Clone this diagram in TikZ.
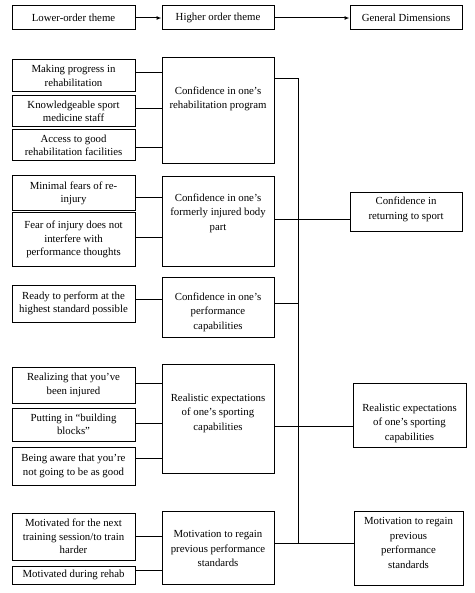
\documentclass[tikz,border=0pt]{standalone}
\usepackage{fontspec}
\setmainfont{Liberation Serif}
\usetikzlibrary{arrows.meta}
\begin{document}
\begin{tikzpicture}[x=1pt,y=-1pt,
  box/.style={draw, line width=1pt, align=center, inner sep=0pt,
    font=\fontsize{10.8}{13.5}\selectfont},
  lbox/.style={box, minimum width=123pt},
  hbox/.style={box, minimum width=112pt},
  txt/.style={align=center, inner sep=0pt, font=\fontsize{10.8}{14.6}\selectfont},
  conn/.style={line width=1pt},
  arr/.style={line width=1pt, -{Latex[length=5pt,width=4pt]}}]
\useasboundingbox (0,0) rectangle (474,593);
% header
\node[lbox, minimum height=24pt] (lh) at (73.5,18) {Lower-order theme};
\node[hbox, minimum height=24pt] (hh) at (218,18) {Higher order theme};
\node[hbox, minimum height=24pt] (gh) at (406,18) {General Dimensions};
\draw[arr] (lh.east) -- (hh.west);
\draw[arr] (hh.east) -- (gh.west);
% group 1
\node[lbox, minimum height=32pt] (l1) at (73.5,76) {Making progress in\\rehabilitation};
\node[lbox, minimum height=31pt] (l2) at (73.5,111.5) {Knowledgeable sport\\medicine staff};
\node[lbox, minimum height=31pt] (l3) at (73.5,145.5) {Access to good\\rehabilitation facilities};
\node[hbox, minimum height=106pt,
  label={[txt,yshift=12pt]center:{Confidence in one’s\\rehabilitation program}}] (h1) at (218,111) {};
% group 2
\node[lbox, minimum height=35pt] (l4) at (73.5,193.5) {Minimal fears of re-\\injury};
\node[lbox, minimum height=53pt] (l5) at (73.5,239.5) {Fear of injury does not\\interfere with\\performance thoughts};
\node[hbox, minimum height=89pt,
  label={[txt,yshift=8.5pt]center:{Confidence in one’s\\formerly injured body\\part}}] (h2) at (218,221.5) {};
\node[hbox, minimum height=39pt,
  label={[txt,yshift=3pt]center:{Confidence in\\returning to sport}}] (g1) at (406,212.5) {};
% group 3
\node[lbox, minimum height=37pt] (l6) at (73.5,303.5) {Ready to perform at the\\highest standard possible};
\node[hbox, minimum height=60pt,
  label={[txt,yshift=-5pt]center:{Confidence in one’s\\performance\\capabilities}}] (h3) at (218,307) {};
% group 4
\node[lbox, minimum height=36pt] (l7) at (73.5,385) {Realizing that you’ve\\been injured};
\node[lbox, minimum height=33pt] (l8) at (73.5,424.5) {Putting in “building\\blocks”};
\node[lbox, minimum height=38pt] (l9) at (73.5,466) {Being aware that you’re\\not going to be as good};
\node[hbox, minimum height=109pt,
  label={[txt,yshift=5.5pt]center:{Realistic expectations\\of one’s sporting\\capabilities}}] (h4) at (218,418.5) {};
\node[hbox, minimum width=113pt, minimum height=64pt,
  label={[txt,yshift=-8pt]center:{Realistic expectations\\of one’s sporting\\capabilities}}] (g2) at (409.5,415) {};
% group 5
\node[lbox, minimum height=47pt] (l10) at (73.5,536.5) {Motivated for the next\\training session/to train\\harder};
\node[lbox, minimum height=18pt] (l11) at (73.5,575) {Motivated during rehab};
\node[hbox, minimum height=73pt,
  label={[txt,yshift=-1pt]center:{Motivation to regain\\previous performance\\standards}}] (h5) at (218,547.5) {};
\node[hbox, minimum width=109pt, minimum height=74pt,
  label={[txt,yshift=5pt]center:{Motivation to regain\\previous\\performance\\standards}}] (g3) at (408.5,548) {};
% spine
\coordinate (vtop) at (298,79);
\coordinate (vbot) at (298,543);
% lower-to-higher connectors
\draw[conn] ([yshift=3pt]l1.east) -- ([yshift=3pt]l1.east -| h1.west);
\draw[conn] ([yshift=2.5pt]l2.east) -- ([yshift=2.5pt]l2.east -| h1.west);
\draw[conn] ([yshift=-2.5pt]l3.east) -- ([yshift=-2.5pt]l3.east -| h1.west);
\draw[conn] ([yshift=-4.5pt]l4.east) -- ([yshift=-4.5pt]l4.east -| h2.west);
\draw[conn] ([yshift=1.5pt]l5.east) -- ([yshift=1.5pt]l5.east -| h2.west);
\draw[conn] ([yshift=4.5pt]l6.east) -- ([yshift=4.5pt]l6.east -| h3.west);
\draw[conn] ([yshift=2pt]l7.east) -- ([yshift=2pt]l7.east -| h4.west);
\draw[conn] ([yshift=1.5pt]l8.east) -- ([yshift=1.5pt]l8.east -| h4.west);
\draw[conn] ([yshift=8pt]l9.east) -- ([yshift=8pt]l9.east -| h4.west);
\draw[conn] (l10.east) -- (l10.east -| h5.west);
\draw[conn] ([yshift=5pt]l11.east) -- ([yshift=5pt]l11.east -| h5.west);
% higher-to-general connectors
\draw[conn] (h1.east |- vtop) -- (vtop) -- (vbot);
\draw[conn] ([yshift=1.5pt]h2.east) -- ([yshift=1.5pt]h2.east -| g1.west);
\draw[conn] ([yshift=4pt]h3.east) -- ([yshift=4pt]h3.east -| vtop);
\draw[conn] ([yshift=-7.5pt]h4.east) -- ([yshift=-7.5pt]h4.east -| g2.west);
\draw[conn] (h5.east |- vbot) -- (g3.west |- vbot);
\end{tikzpicture}
\end{document}
